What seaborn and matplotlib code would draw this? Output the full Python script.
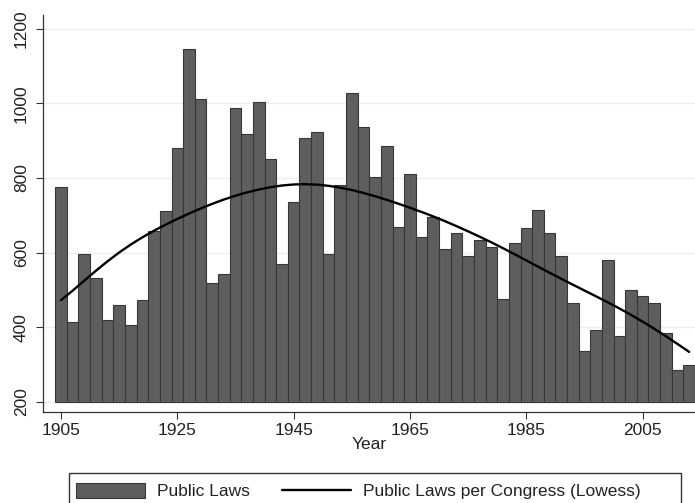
import numpy as np
import pandas as pd
import matplotlib
matplotlib.use("Agg")
import matplotlib.pyplot as plt
from matplotlib.patches import Rectangle
import seaborn as sns

years = list(range(1905, 2014, 2))
laws = [777, 414, 597, 532, 420, 460, 407, 474, 658, 712,
        881, 1145, 1011, 518, 542, 988, 919, 1005, 851, 570,
        735, 908, 923, 597, 781, 1027, 937, 802, 887, 668,
        812, 643, 695, 611, 652, 590, 634, 614, 475, 627,
        665, 714, 652, 590, 466, 337, 393, 580, 378, 499,
        483, 464, 385, 286, 300]
xticks = [1905, 1925, 1945, 1965, 1985, 2005]
yticks = [200, 400, 600, 800, 1000, 1200]
BASE = 200


def stata_lowess(x, y, bw=0.8):
    # running-line smoother as in Stata's lowess (symmetric index window, tricube weights)
    x = np.asarray(x, float)
    y = np.asarray(y, float)
    n = len(x)
    k = int(np.floor((n * bw - 0.5) / 2))
    out = np.empty(n)
    for i in range(n):
        lo, hi = max(0, i - k), min(n - 1, i + k)
        xs, ys = x[lo:hi + 1], y[lo:hi + 1]
        h = 1.0001 * max(x[hi] - x[i], x[i] - x[lo])
        w = (1 - (np.abs(xs - x[i]) / h) ** 3) ** 3
        W = w.sum()
        xm = (w * xs).sum() / W
        ym = (w * ys).sum() / W
        b = (w * (xs - xm) * (ys - ym)).sum() / (w * (xs - xm) ** 2).sum()
        out[i] = ym + b * (x[i] - xm)
    return out


df = pd.DataFrame({"Year": years, "Laws": laws})
df["Height"] = df["Laws"] - BASE
df["Smooth"] = stata_lowess(df["Year"], df["Laws"])

sns.set_theme(style="white")
plt.rcParams["font.family"] = ["Liberation Sans", "DejaVu Sans"]

fig = plt.figure(figsize=(6.95, 5.03), dpi=100)
ax = fig.add_axes([43 / 695, 1 - 412 / 503, 1 - 43 / 695, (412 - 15) / 503])

sns.barplot(data=df, x="Year", y="Height", native_scale=True, width=1.0,
            color="#5e5e5e", edgecolor="#383838", linewidth=0.8,
            saturation=1, bottom=BASE, ax=ax, label="Public Laws", zorder=2)
sns.lineplot(data=df, x="Year", y="Smooth", color="black", linewidth=1.7,
             ax=ax, label="Public Laws per Congress (Lowess)", zorder=3)

ax.set_xlim(1901.9, 2014.0)
ax.set_ylim(173, 1237)
ax.set_xticks(xticks)
ax.set_yticks(yticks)
ax.set_yticklabels([str(t) for t in yticks], rotation=90, va="center")
ax.tick_params(axis="both", which="both", length=5, width=0.8, color="#333333",
               labelsize=12.5, labelcolor="#222222", direction="out")
ax.tick_params(axis="x", bottom=True, pad=3)
ax.tick_params(axis="y", left=True, pad=5)
ax.yaxis.grid(True, color="#eeeeee", linewidth=1.0, zorder=0)
ax.set_axisbelow(True)
for s in ["top", "right"]:
    ax.spines[s].set_visible(False)
for s in ["left", "bottom"]:
    ax.spines[s].set_color("#333333")
    ax.spines[s].set_linewidth(0.9)
ax.set_xlabel("Year", fontsize=12.5, color="#222222", labelpad=-1)
ax.set_ylabel("")

handles, labels = ax.get_legend_handles_labels()
ax.get_legend().remove()
order = sorted(range(len(labels)), key=lambda i: 0 if labels[i] == "Public Laws" else 1)
leg = fig.legend([handles[i] for i in order], [labels[i] for i in order],
                 loc="center left", bbox_to_anchor=(62 / 695, 1 - 491 / 503),
                 ncol=2, frameon=False, fontsize=12.5, handlelength=4.0,
                 handleheight=1.0, columnspacing=1.8, handletextpad=0.7,
                 borderpad=0.3, labelcolor="#222222")
fig.patches.append(Rectangle((69 / 695, -0.02), (681 - 69) / 695, 0.02 + 1 - 473 / 503,
                             transform=fig.transFigure, fill=False,
                             edgecolor="#333333", linewidth=1.0))

fig.savefig("out.png", dpi=100)
